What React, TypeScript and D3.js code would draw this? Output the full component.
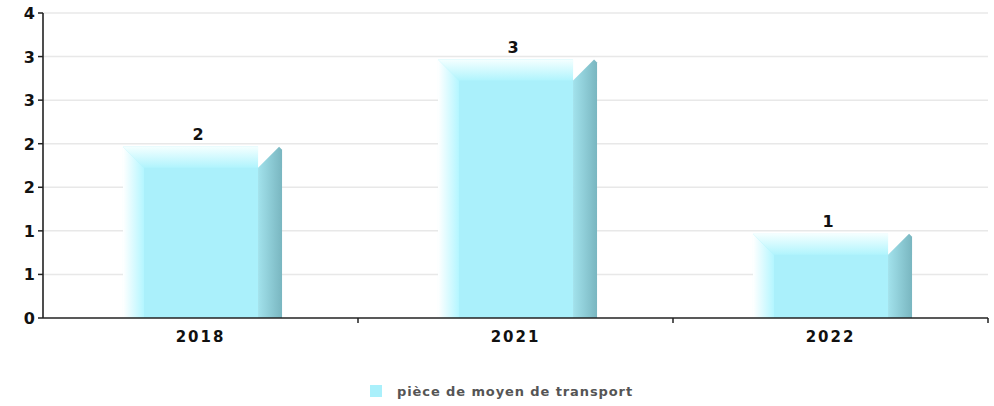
import * as d3 from 'd3';
import React from 'react';

const categories = ['2018', '2021', '2022'];
const values = [2, 3, 1];
const yTicks = [0, 0.5, 1, 1.5, 2, 2.5, 3, 3.5];
const seriesName = 'pièce de moyen de transport';

const width = 994;
const height = 406;
const margin = { top: 13, right: 6, bottom: 88, left: 43 };

function App() {
  const x = d3
    .scaleBand<string>()
    .domain(categories)
    .range([margin.left, width - margin.right]);

  const y = d3
    .scaleLinear()
    .domain([0, 3.5])
    .range([height - margin.bottom, margin.top]);

  const base = y(0);
  const barW = x.bandwidth() * 0.505;
  const depth = 24;
  const bevel = 21;
  const fmt = (v: number) => String(Math.round(v + 1e-9));

  return (
    <svg
      width={width}
      height={height}
      style={{ position: 'absolute', left: 0, top: 0, fontFamily: 'DejaVu Sans' }}
    >
      <defs>
        <linearGradient id="leftG" x1="0" x2="1" y1="0" y2="0">
          <stop offset="0" stopColor="#ffffff" />
          <stop offset="1" stopColor="#b4f6ff" />
        </linearGradient>
        <linearGradient id="topG" x1="0" x2="0" y1="0" y2="1">
          <stop offset="0" stopColor="#f4ffff" />
          <stop offset="1" stopColor="#b0f4fd" />
        </linearGradient>
        <linearGradient id="rightG" x1="0" x2="1" y1="0" y2="0">
          <stop offset="0" stopColor="#a2e2ec" />
          <stop offset="1" stopColor="#79b6c0" />
        </linearGradient>
      </defs>

      {yTicks.slice(1).map((t) => (
        <line key={'g' + t} x1={margin.left} x2={width - margin.right} y1={y(t)} y2={y(t)} stroke="#e8e8e8" strokeWidth={1.5} />
      ))}

      {categories.map((c, i) => {
        const cx = (x(c) || 0) + x.bandwidth() / 2 + 2;
        const l = cx - barW / 2;
        const r = cx + barW / 2;
        const top = y(values[i]) + 3;
        const fr = r - depth;
        return (
          <g key={c}>
            <rect x={l} y={top} width={fr - l} height={base - top} fill="#aaf0fb" />
            <polygon points={`${l},${top} ${l + bevel},${top + bevel} ${l + bevel},${base} ${l},${base}`} fill="url(#leftG)" />
            <polygon points={`${l},${top} ${fr},${top} ${fr},${top + bevel} ${l + bevel},${top + bevel}`} fill="url(#topG)" />
            <polygon points={`${fr},${top + bevel} ${r - 3},${top} ${r},${top + 3} ${r},${base} ${fr},${base}`} fill="url(#rightG)" />
            <text x={cx - 4} y={top - 7} textAnchor="middle" fontSize={16} fontWeight="bold" letterSpacing={1} fill="#111">
              {fmt(values[i])}
            </text>
            <text x={(x(c) || 0) + x.bandwidth() / 2} y={base + 24} textAnchor="middle" fontSize={15} fontWeight="bold" letterSpacing={2} fill="#111">
              {c}
            </text>
          </g>
        );
      })}

      <line x1={margin.left} x2={margin.left} y1={margin.top} y2={base} stroke="#222" strokeWidth={1.6} />
      {yTicks.map((t) => (
        <g key={'t' + t}>
          <line x1={margin.left - 5} x2={margin.left} y1={y(t)} y2={y(t)} stroke="#222" strokeWidth={1.5} />
          <text x={margin.left - 8} y={y(t) + 6} textAnchor="end" fontSize={16} fontWeight="bold" fill="#111">
            {fmt(t)}
          </text>
        </g>
      ))}

      <line x1={margin.left} x2={width - margin.right} y1={base} y2={base} stroke="#222" strokeWidth={1.6} />
      {categories.map((c) => (
        <line key={'xt' + c} x1={(x(c) || 0) + x.bandwidth()} x2={(x(c) || 0) + x.bandwidth()} y1={base} y2={base + 5} stroke="#222" strokeWidth={1.5} />
      ))}

      <rect x={370} y={385} width={12} height={12} fill="#aaf0fb" />
      <text x={397} y={396} fontSize={13} fontWeight="bold" letterSpacing={0.9} fill="#555">
        {seriesName}
      </text>
    </svg>
  );
}

export default App;
